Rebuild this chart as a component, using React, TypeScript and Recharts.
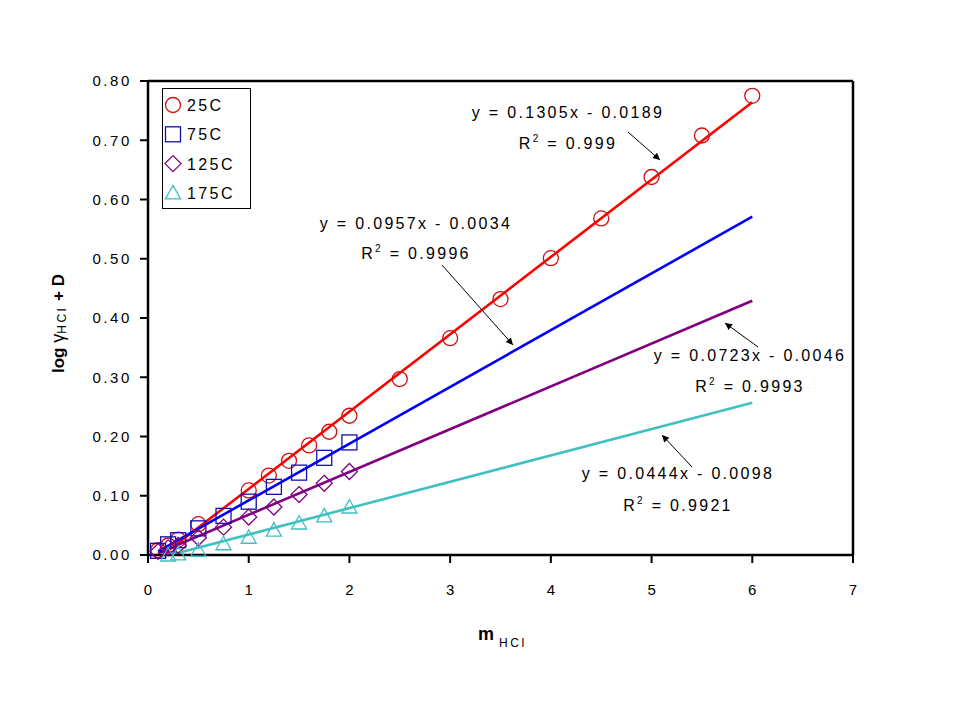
import React from 'react';
import { ComposedChart, Scatter, Line, XAxis, YAxis, ReferenceLine } from 'recharts';

const FONT = '"Liberation Sans", Arial, sans-serif';

const xTicks = [0, 1, 2, 3, 4, 5, 6, 7];
const yTicks = [0, 0.1, 0.2, 0.3, 0.4, 0.5, 0.6, 0.7, 0.8];

const x25 = [0.1, 0.2, 0.3, 0.5, 1.0, 1.2, 1.4, 1.6, 1.8, 2.0, 2.5, 3.0, 3.5, 4.0, 4.5, 5.0, 5.5, 6.0];
const y25 = [0.008, 0.016, 0.026, 0.052, 0.109, 0.134, 0.159, 0.185, 0.208, 0.235, 0.297, 0.366, 0.432, 0.501, 0.568, 0.638, 0.708, 0.775];

const x75 = [0.1, 0.2, 0.3, 0.5, 0.75, 1.0, 1.25, 1.5, 1.75, 2.0];
const y75 = [0.007, 0.018, 0.025, 0.045, 0.066, 0.090, 0.115, 0.139, 0.164, 0.190];

const x125 = [0.1, 0.2, 0.3, 0.5, 0.75, 1.0, 1.25, 1.5, 1.75, 2.0];
const y125 = [0.006, 0.012, 0.016, 0.029, 0.047, 0.064, 0.081, 0.102, 0.121, 0.141];

const x175 = [0.2, 0.3, 0.5, 0.75, 1.0, 1.25, 1.5, 1.75, 2.0];
const y175 = [0.0, 0.002, 0.008, 0.019, 0.030, 0.042, 0.054, 0.066, 0.081];

// trend line end points
const fit25X = [0.15, 6];
const fit25Y = [0.0007, 0.764];
const fit75X = [0.1, 6];
const fit75Y = [0.006, 0.571];
const fit125X = [0.1, 6];
const fit125Y = [0.003, 0.429];
const fit175X = [0.22, 6];
const fit175Y = [0.0, 0.257];

const labels = ['25C', '75C', '125C', '175C'];
const markColors = ['#D01010', '#1010B0', '#800080', '#40C0C0'];
const lineColors = ['#FF0000', '#0000FF', '#800080', '#40C0C0'];

const zip = (xs: number[], ys: number[]) => xs.map((x, i) => ({ x, y: ys[i] }));

const d25 = zip(x25, y25);
const d75 = zip(x75, y75);
const d125 = zip(x125, y125);
const d175 = zip(x175, y175);
const f25 = zip(fit25X, fit25Y);
const f75 = zip(fit75X, fit75Y);
const f125 = zip(fit125X, fit125Y);
const f175 = zip(fit175X, fit175Y);

const S = 7.5;

function Marker({ kind, cx, cy, color }: { kind: number; cx: number; cy: number; color: string }) {
  const common = { fill: 'none', stroke: color, strokeWidth: 1.3 };
  if (kind === 0) return <circle cx={cx} cy={cy} r={S} {...common} />;
  if (kind === 1) return <rect x={cx - S} y={cy - S} width={2 * S} height={2 * S} {...common} />;
  if (kind === 2)
    return <polygon points={`${cx},${cy - S - 0.5} ${cx + S + 0.5},${cy} ${cx},${cy + S + 0.5} ${cx - S - 0.5},${cy}`} {...common} />;
  return <polygon points={`${cx},${cy - S} ${cx + S},${cy + S * 0.8} ${cx - S},${cy + S * 0.8}`} {...common} />;
}

const shapeFor = (kind: number) => (props: any) => (
  <Marker kind={kind} cx={props.cx} cy={props.cy} color={markColors[kind]} />
);

const XTick = (props: any) => {
  const { x, y, payload } = props;
  return (
    <text x={x + 1} y={y} dy="0.71em" textAnchor="middle" fontFamily={FONT} fontSize={15} fill="#000" style={{ letterSpacing: '2px' }}>
      {payload.value}
    </text>
  );
};

const YTick = (props: any) => {
  const { x, y, payload } = props;
  return (
    <text x={x + 2} y={y} dy="0.36em" textAnchor="end" fontFamily={FONT} fontSize={15} fill="#000" style={{ letterSpacing: '2.6px' }}>
      {Number(payload.value).toFixed(2)}
    </text>
  );
};

const textStyle = { fontFamily: FONT, fontSize: 16, fill: '#000', letterSpacing: '2.3px' } as any;

function Eq({ x, y, eq, r2x, r2y, r2 }: { x: number; y: number; eq: string; r2x: number; r2y: number; r2: string }) {
  return (
    <g>
      <text x={x} y={y} textAnchor="middle" style={textStyle}>{eq}</text>
      <text x={r2x} y={r2y} textAnchor="middle" style={textStyle}>
        <tspan>R</tspan>
        <tspan dy={-7} fontSize={10}>2</tspan>
        <tspan dy={7}> = {r2}</tspan>
      </text>
    </g>
  );
}

export default function App() {
  const W = 943;
  const H = 703;
  return (
    <div style={{ position: 'relative', width: W, height: H, background: '#fff' }}>
      <ComposedChart width={W} height={H} margin={{ top: 73, right: 98, left: 80, bottom: 116 }}>
        <XAxis
          type="number"
          dataKey="x"
          domain={[0, 7]}
          ticks={xTicks}
          interval={0}
          height={40}
          axisLine={{ stroke: '#000', strokeWidth: 2.5 }}
          tickLine={{ stroke: '#000', strokeWidth: 2 }}
          tickSize={8}
          tickMargin={21}
          tick={<XTick />}
        />
        <YAxis
          type="number"
          dataKey="y"
          domain={[0, 0.8]}
          ticks={yTicks}
          interval={0}
          width={60}
          axisLine={{ stroke: '#000', strokeWidth: 2.5 }}
          tickLine={{ stroke: '#000', strokeWidth: 2 }}
          tickSize={8}
          tickMargin={10}
          tick={<YTick />}
        />
        <ReferenceLine y={0.8} stroke="#000" strokeWidth={2.5} />
        <ReferenceLine x={7} stroke="#000" strokeWidth={2.5} />
        <Line data={f25} dataKey="y" stroke={lineColors[0]} strokeWidth={2.6} dot={false} isAnimationActive={false} legendType="none" />
        <Line data={f75} dataKey="y" stroke={lineColors[1]} strokeWidth={2.6} dot={false} isAnimationActive={false} legendType="none" />
        <Line data={f125} dataKey="y" stroke={lineColors[2]} strokeWidth={2.6} dot={false} isAnimationActive={false} legendType="none" />
        <Line data={f175} dataKey="y" stroke={lineColors[3]} strokeWidth={2.6} dot={false} isAnimationActive={false} legendType="none" />
        <Scatter name="25C" data={d25} dataKey="y" shape={shapeFor(0)} isAnimationActive={false} />
        <Scatter name="75C" data={d75} dataKey="y" shape={shapeFor(1)} isAnimationActive={false} />
        <Scatter name="125C" data={d125} dataKey="y" shape={shapeFor(2)} isAnimationActive={false} />
        <Scatter name="175C" data={d175} dataKey="y" shape={shapeFor(3)} isAnimationActive={false} />
      </ComposedChart>
      <svg width={W} height={H} style={{ position: 'absolute', left: 0, top: 0, pointerEvents: 'none' }}>
        <defs>
          <marker id="ah" viewBox="0 0 10 10" refX="10" refY="5" markerWidth="9" markerHeight="7" markerUnits="userSpaceOnUse" orient="auto">
            <path d="M0,0 L10,5 L0,10 z" fill="#000" />
          </marker>
        </defs>
        <g transform="translate(154,80)">
          <rect x={0.5} y={0.5} width={88} height={120} fill="#fff" stroke="#000" strokeWidth={1} />
          {labels.map((l, i) => {
            const cy = 17 + i * 29.3;
            return (
              <g key={l}>
                <Marker kind={i} cx={11} cy={cy} color={markColors[i]} />
                <text x={25} y={cy + 6} fontFamily={FONT} fontSize={16} fill="#000" style={{ letterSpacing: '2.4px' }}>
                  {l}
                </text>
              </g>
            );
          })}
        </g>
        <Eq x={560} y={110} eq="y = 0.1305x - 0.0189" r2x={560} r2y={140.5} r2="0.999" />
        <line x1={620} y1={124} x2={652} y2={152} stroke="#000" strokeWidth={1} markerEnd="url(#ah)" />
        <Eq x={408} y={220.5} eq="y = 0.0957x - 0.0034" r2x={408} r2y={250.5} r2="0.9996" />
        <line x1={434} y1={257} x2={505} y2={337} stroke="#000" strokeWidth={1} markerEnd="url(#ah)" />
        <Eq x={742} y={352.5} eq="y = 0.0723x - 0.0046" r2x={742} r2y={383.5} r2="0.9993" />
        <line x1={750} y1={339} x2={717} y2={315} stroke="#000" strokeWidth={1} markerEnd="url(#ah)" />
        <Eq x={670} y={470.5} eq="y = 0.0444x - 0.0098" r2x={670} r2y={502.5} r2="0.9921" />
        <line x1={684} y1={459} x2={654} y2={427} stroke="#000" strokeWidth={1} markerEnd="url(#ah)" />
        <text x={470} y={632} fontFamily={FONT} fill="#000">
          <tspan fontSize={18} fontWeight="bold">m</tspan>
          <tspan fontSize={12} dx={5} dy={7} style={{ letterSpacing: '2.5px' }}>HCI</tspan>
        </text>
        <text x={56} y={365} transform="rotate(-90 56 365)" fontFamily={FONT} fill="#000">
          <tspan fontSize={17} fontWeight="bold">log </tspan>
          <tspan fontSize={18}>γ</tspan>
          <tspan fontSize={12} dy={2} style={{ letterSpacing: '2.5px' }}>HCI</tspan>
          <tspan fontSize={17} fontWeight="bold" dy={-2}> + D</tspan>
        </text>
      </svg>
    </div>
  );
}
